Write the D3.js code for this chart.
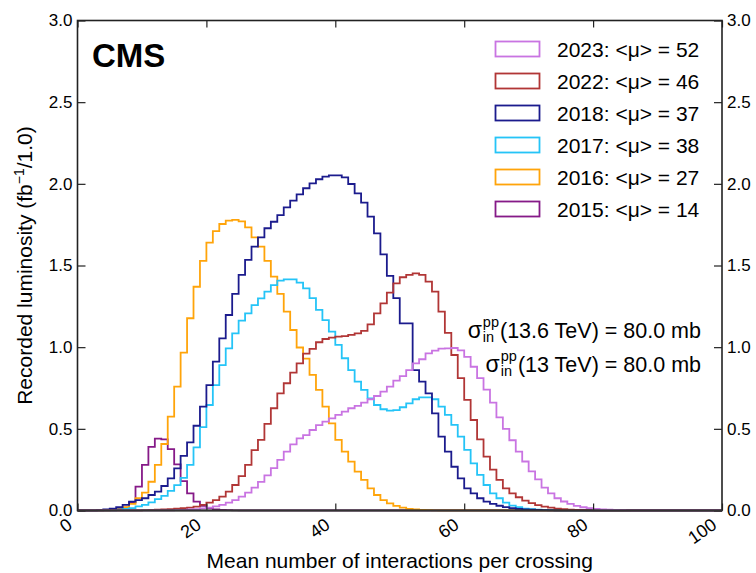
<!DOCTYPE html>
<html>
<head>
<meta charset="utf-8">
<script src="https://cdn.jsdelivr.net/npm/d3@7"></script>
<style>
  body { margin: 0; background: #fff; }
  svg { display: block; }
  text { font-family: "Liberation Sans", Arial, Helvetica, sans-serif; fill: #000; }
</style>
</head>
<body>
<svg id="chart" width="756" height="573"></svg>
<script>
// Pileup distributions: recorded luminosity per unit of mean pileup (bins of width 1, 0..100)
const years = ["2023", "2022", "2018", "2017", "2016", "2015"];
const meanPileup = [52, 46, 37, 38, 27, 14];

// Each series lists bin contents starting at its first non-empty bin
const start2015 = 4;
const lumi2015 = [0.002, 0.004, 0.008, 0.018, 0.05, 0.146, 0.279, 0.39, 0.44, 0.435,
  0.376, 0.283, 0.18, 0.105, 0.054, 0.028, 0.014, 0.007, 0.004, 0.002, 0.001];

const start2016 = 5;
const lumi2016 = [0.003, 0.008, 0.02, 0.04, 0.075, 0.109, 0.176, 0.279, 0.407, 0.575,
  0.758, 0.966, 1.177, 1.37, 1.528, 1.64, 1.711, 1.754, 1.775, 1.779,
  1.77, 1.734, 1.672, 1.615, 1.528, 1.432, 1.326, 1.217, 1.105, 0.998,
  0.93, 0.83, 0.738, 0.636, 0.534, 0.432, 0.36, 0.299, 0.238, 0.187,
  0.136, 0.095, 0.064, 0.044, 0.028, 0.017, 0.01, 0.006, 0.004, 0.002, 0.001];

const start2017 = 6;
const lumi2017 = [0.005, 0.01, 0.015, 0.025, 0.035, 0.05, 0.07, 0.09, 0.12, 0.155,
  0.2, 0.279, 0.387, 0.51, 0.646, 0.768, 0.89, 0.993, 1.084, 1.162,
  1.207, 1.258, 1.299, 1.34, 1.38, 1.407, 1.415, 1.415, 1.395, 1.36,
  1.3, 1.228, 1.166, 1.095, 1.014, 0.932, 0.86, 0.789, 0.738, 0.687,
  0.646, 0.62, 0.611, 0.615, 0.632, 0.656, 0.681, 0.693, 0.693, 0.681,
  0.636, 0.585, 0.524, 0.452, 0.371, 0.289, 0.218, 0.156, 0.105, 0.075,
  0.048, 0.03, 0.02, 0.012, 0.008, 0.005, 0.003, 0.002, 0.001];

const start2018 = 3;
const lumi2018 = [0.003, 0.006, 0.012, 0.02, 0.035, 0.054, 0.064, 0.075, 0.095, 0.115,
  0.15, 0.197, 0.258, 0.334, 0.417, 0.519, 0.636, 0.768, 0.911, 1.054,
  1.197, 1.326, 1.442, 1.534, 1.615, 1.672, 1.728, 1.768, 1.809, 1.856,
  1.897, 1.936, 1.973, 2.003, 2.028, 2.044, 2.052, 2.052, 2.04, 1.999,
  1.942, 1.885, 1.799, 1.697, 1.568, 1.436, 1.3, 1.146, 1.146, 0.86,
  0.789, 0.717, 0.595, 0.452, 0.36, 0.268, 0.197, 0.136, 0.105, 0.075,
  0.054, 0.04, 0.029, 0.021, 0.015, 0.01, 0.007, 0.005, 0.003, 0.002, 0.001];

const start2022 = 10;
const lumi2022 = [0.002, 0.003, 0.005, 0.007, 0.009, 0.011, 0.014, 0.018, 0.024, 0.034,
  0.048, 0.064, 0.085, 0.115, 0.156, 0.211, 0.279, 0.37, 0.432, 0.53,
  0.626, 0.717, 0.779, 0.844, 0.901, 0.96, 0.99, 1.03, 1.05, 1.058,
  1.064, 1.068, 1.075, 1.085, 1.1, 1.14, 1.207, 1.268, 1.334, 1.391,
  1.428, 1.442, 1.452, 1.442, 1.401, 1.34, 1.218, 1.088, 0.952, 0.81,
  0.677, 0.554, 0.436, 0.33, 0.25, 0.187, 0.136, 0.105, 0.081, 0.06,
  0.045, 0.033, 0.024, 0.017, 0.012, 0.008, 0.005, 0.003, 0.002, 0.001];

const start2023 = 15;
const lumi2023 = [0.002, 0.004, 0.006, 0.009, 0.013, 0.018, 0.025, 0.034, 0.048, 0.064,
  0.085, 0.11, 0.14, 0.175, 0.215, 0.26, 0.31, 0.36, 0.405, 0.442,
  0.462, 0.493, 0.523, 0.544, 0.564, 0.585, 0.605, 0.626, 0.64, 0.66,
  0.681, 0.701, 0.728, 0.758, 0.795, 0.823, 0.86, 0.901, 0.926, 0.962,
  0.979, 0.991, 0.993, 0.995, 0.98, 0.94, 0.88, 0.81, 0.74, 0.66,
  0.57, 0.5, 0.43, 0.36, 0.3, 0.24, 0.19, 0.14, 0.105, 0.075,
  0.055, 0.04, 0.028, 0.02, 0.014, 0.01, 0.007, 0.005, 0.003, 0.002, 0.001];

const xTicks = [0, 20, 40, 60, 80, 100];
const yTicks = [0, 0.5, 1.0, 1.5, 2.0, 2.5, 3.0];

// ---- styling ----
const lineColors = {
  "2023": "#c974e2",
  "2022": "#b13636",
  "2018": "#1b1b8d",
  "2017": "#25c4f7",
  "2016": "#ffa40a",
  "2015": "#861a88"
};

const nBins = 100;
function fillBins(start, vals) {
  const out = new Array(nBins).fill(0);
  vals.forEach((v, i) => { if (start + i < nBins) out[start + i] = v; });
  return out;
}

const seriesBins = {
  "2015": fillBins(start2015, lumi2015),
  "2016": fillBins(start2016, lumi2016),
  "2017": fillBins(start2017, lumi2017),
  "2018": fillBins(start2018, lumi2018),
  "2022": fillBins(start2022, lumi2022),
  "2023": fillBins(start2023, lumi2023)
};

const svg = d3.select("#chart");
const plot = { left: 77.5, right: 722, top: 20.5, bottom: 510.5 };

const x = d3.scaleLinear().domain([0, 100]).range([plot.left, plot.right]);
const y = d3.scaleLinear().domain([0, 3]).range([plot.bottom, plot.top]);

svg.append("defs").append("clipPath").attr("id", "plotClip")
  .append("rect")
  .attr("x", plot.left).attr("y", plot.top - 2)
  .attr("width", plot.right - plot.left).attr("height", plot.bottom - plot.top + 3);

// ---- histograms ----
const stepLine = d3.line().x(d => x(d[0])).y(d => y(d[1]));
const drawOrder = ["2015", "2016", "2017", "2018", "2022", "2023"];
const histG = svg.append("g").attr("clip-path", "url(#plotClip)");
drawOrder.forEach(yr => {
  const bins = seriesBins[yr];
  const pts = [[0, 0]];
  bins.forEach((v, i) => { pts.push([i, v]); pts.push([i + 1, v]); });
  pts.push([nBins, 0]);
  histG.append("path")
    .attr("d", stepLine(pts))
    .attr("fill", "none")
    .attr("stroke", lineColors[yr])
    .attr("stroke-width", 1.8)
    .attr("stroke-linejoin", "miter");
});

// ---- axes (ticks pointing into the frame) ----
const tickFont = 17;
const axisColor = "#222";

const bottomAxis = d3.axisBottom(x).tickValues(xTicks).tickSizeInner(-7).tickSizeOuter(0).tickFormat("");
const topAxis = d3.axisTop(x).tickValues(xTicks).tickSizeInner(-7).tickSizeOuter(0).tickFormat("");
const leftAxis = d3.axisLeft(y).tickValues(yTicks).tickSizeInner(-8).tickSizeOuter(0)
  .tickPadding(5).tickFormat(d3.format(".1f"));
const rightAxis = d3.axisRight(y).tickValues(yTicks).tickSizeInner(-8).tickSizeOuter(0)
  .tickPadding(5).tickFormat(d3.format(".1f"));

function styleAxis(g) {
  g.select(".domain").remove();
  g.selectAll(".tick line").attr("stroke", axisColor).attr("stroke-width", 1.2);
  g.selectAll(".tick text").attr("font-size", tickFont).attr("fill", "#000")
    .style("font-family", '"Liberation Sans", Arial, sans-serif');
}

svg.append("g").attr("transform", `translate(0,${plot.bottom})`).call(bottomAxis).call(styleAxis);
svg.append("g").attr("transform", `translate(0,${plot.top})`).call(topAxis).call(styleAxis);
svg.append("g").attr("transform", `translate(${plot.left},0)`).call(leftAxis).call(styleAxis);
svg.append("g").attr("transform", `translate(${plot.right},0)`).call(rightAxis).call(styleAxis);

// frame
svg.append("rect")
  .attr("x", plot.left).attr("y", plot.top)
  .attr("width", plot.right - plot.left).attr("height", plot.bottom - plot.top)
  .attr("fill", "none").attr("stroke", axisColor).attr("stroke-width", 1.6);
svg.append("line")
  .attr("x1", plot.left).attr("x2", plot.right)
  .attr("y1", plot.bottom).attr("y2", plot.bottom)
  .attr("stroke", "#333").attr("stroke-width", 2.2);

// rotated x tick labels
svg.append("g").selectAll("text").data(xTicks).join("text")
  .attr("transform", d => `translate(${x(d) - 4},${plot.bottom + 17}) rotate(-35)`)
  .attr("text-anchor", "end")
  .attr("font-size", 18)
  .text(d => d);

// axis titles
svg.append("text")
  .attr("x", (plot.left + plot.right) / 2)
  .attr("y", 568)
  .attr("text-anchor", "middle")
  .attr("font-size", 21)
  .text("Mean number of interactions per crossing");

const yTitle = svg.append("text")
  .attr("transform", `translate(32,${(plot.top + plot.bottom) / 2}) rotate(-90)`)
  .attr("text-anchor", "middle")
  .attr("font-size", 21);
yTitle.append("tspan").text("Recorded luminosity (fb");
yTitle.append("tspan").attr("font-size", 14).attr("dy", -8).text("\u22121");
yTitle.append("tspan").attr("dy", 8).text("/1.0)");

// CMS label
svg.append("text")
  .attr("x", 92).attr("y", 67)
  .attr("font-size", 33)
  .attr("font-weight", "bold")
  .text("CMS");

// ---- legend ----
const legend = svg.append("g");
years.forEach((yr, i) => {
  const yRow = 49 + i * 32;
  legend.append("rect")
    .attr("x", 495.5).attr("y", yRow - 7.5)
    .attr("width", 44).attr("height", 15)
    .attr("fill", "none")
    .attr("stroke", lineColors[yr])
    .attr("stroke-width", 1.8);
  legend.append("text")
    .attr("x", 557).attr("y", yRow + 8)
    .attr("font-size", 21)
    .text(`${yr}: <\u03bc> = ${meanPileup[i]}`);
});

// ---- cross-section annotations ----
function sigmaLabel(energy, baseline) {
  const g = svg.append("g");
  const s = g.append("text").attr("x", 0).attr("y", baseline).attr("font-size", 23).text("\u03c3");
  const w1 = s.node().getComputedTextLength();
  const sup = g.append("text").attr("x", w1 + 1).attr("y", baseline - 11).attr("font-size", 14.5).text("pp");
  const sub = g.append("text").attr("x", w1 + 1).attr("y", baseline + 4).attr("font-size", 14.5).text("in");
  const w2 = Math.max(sup.node().getComputedTextLength(), sub.node().getComputedTextLength());
  const rest = g.append("text").attr("x", w1 + w2 + 2).attr("y", baseline).attr("font-size", 21.5)
    .text(`(${energy} TeV) = 80.0 mb`);
  const total = w1 + w2 + 2 + rest.node().getComputedTextLength();
  g.attr("transform", `translate(${701 - total},0)`);
}
sigmaLabel("13.6", 338);
sigmaLabel("13", 372);
</script>
</body>
</html>
